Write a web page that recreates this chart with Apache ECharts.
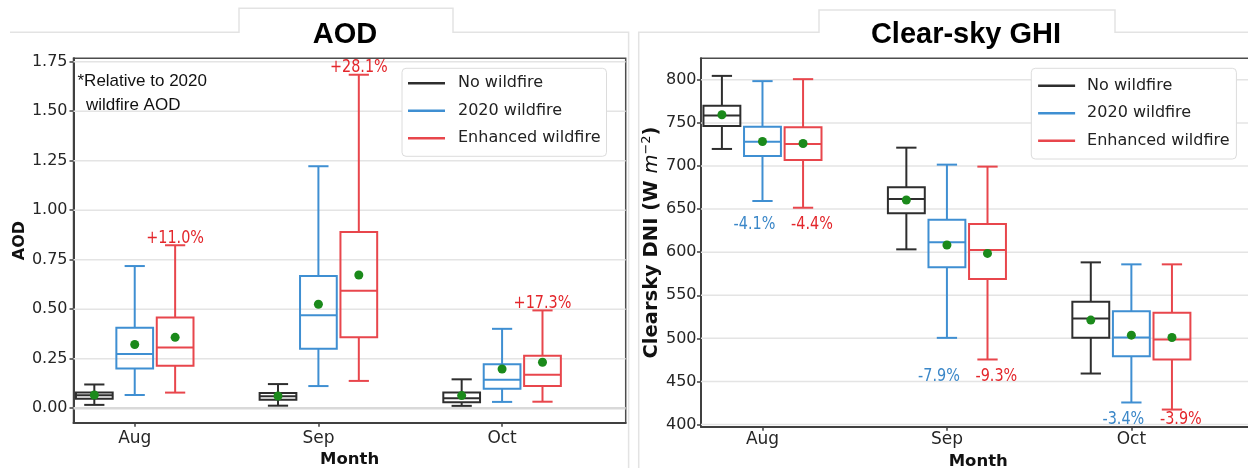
<!DOCTYPE html>
<html>
<head>
<meta charset="utf-8">
<script src="https://cdn.jsdelivr.net/npm/echarts@6/dist/echarts.min.js"></script>
<style>
  html, body { margin: 0; padding: 0; background: #ffffff; }
  #chart { width: 1248px; height: 468px; }
</style>
</head>
<body>
<div id="chart"></div>
<script>
// ---------------- data ----------------
const months = ['Aug', 'Sep', 'Oct'];
const scenarios = ['No wildfire', '2020 wildfire', 'Enhanced wildfire'];

// AOD per month: [min, Q1, median, Q3, max]
const aodNoWildfire = [[0.017, 0.048, 0.065, 0.080, 0.120], [0.013, 0.043, 0.060, 0.077, 0.122], [0.012, 0.030, 0.050, 0.079, 0.146]];
const aodNoWildfireMean = [0.067, 0.062, 0.064];
const aod2020 = [[0.067, 0.201, 0.274, 0.406, 0.718], [0.112, 0.300, 0.470, 0.668, 1.222], [0.032, 0.099, 0.144, 0.222, 0.401]];
const aod2020Mean = [0.322, 0.525, 0.198];
const aodEnhanced = [[0.079, 0.215, 0.307, 0.458, 0.823], [0.138, 0.359, 0.593, 0.890, 1.684], [0.033, 0.112, 0.169, 0.265, 0.494]];
const aodEnhancedMean = [0.358, 0.673, 0.232];
const aodChangeLabels = ['+11.0%', '+28.1%', '+17.3%'];
const aodTicks = [0, 0.25, 0.5, 0.75, 1.0, 1.25, 1.5, 1.75];

// Clear-sky irradiance per month (W m-2): [min, Q1, median, Q3, max]
const ghiNoWildfire = [[719.8, 746.5, 758.5, 769.8, 804.6], [603.3, 645.1, 661.7, 675.3, 721.3], [459.2, 500.6, 523.1, 542.4, 588.2]];
const ghiNoWildfireMean = [759.5, 660.6, 521.2];
const ghi2020 = [[659.4, 711.7, 728.3, 745.7, 798.5], [500.6, 582.4, 611.4, 637.7, 701.6], [425.6, 479.3, 501.0, 531.6, 585.9]];
const ghi2020Mean = [728.4, 608.3, 503.7];
const ghiEnhanced = [[651.6, 707.0, 725.6, 745.0, 800.8], [475.5, 568.8, 602.5, 632.7, 699.3], [417.4, 475.5, 498.7, 529.6, 585.9]];
const ghiEnhancedMean = [726.1, 598.6, 501.0];
const ghiChange2020 = ['-4.1%', '-7.9%', '-3.4%'];
const ghiChangeEnhanced = ['-4.4%', '-9.3%', '-3.9%'];
const ghiTicks = [400, 450, 500, 550, 600, 650, 700, 750, 800];

// ---------------- styling ----------------
const COLORS = ['#2e2e2e', '#3f8fd2', '#e8464c'];
const TEXT_RED = '#e3262b';
const TEXT_BLUE = '#3b87c8';
const MEAN_COLOR = '#1b8a1b';
const FONT = 'DejaVu Sans';
const BOX_W = 0.2;      // box width in month units
const CAP_W = 0.11;     // whisker cap width in month units
const OFFSETS = [-0.22, 0, 0.22];

function rows(stats, means) {
  return stats.map((s, i) => [i, s[0], s[1], s[2], s[3], s[4], means[i]]);
}

// Percent-change annotation, set in a narrowed face
function pctText(x, y, text, color, align) {
  return {
    type: 'text', x: x, y: y, scaleX: 0.8, z2: 20,
    style: {
      text: text, fill: color, fontSize: 18, fontFamily: FONT,
      align: align, verticalAlign: 'middle',
      textAlign: align, textVerticalAlign: 'middle'
    }
  };
}

// Draws one box-and-whisker glyph with its mean marker
function boxRenderer(k, extra) {
  const color = COLORS[k];
  return function (params, api) {
    const m = api.value(0);
    const x = m + OFFSETS[k];
    const w = api.size([BOX_W, 0])[0];
    const cw = api.size([CAP_W, 0])[0];
    const pMin = api.coord([x, api.value(1)]);
    const cx = pMin[0];
    const yMin = pMin[1];
    const yQ1 = api.coord([x, api.value(2)])[1];
    const yMed = api.coord([x, api.value(3)])[1];
    const yQ3 = api.coord([x, api.value(4)])[1];
    const yMax = api.coord([x, api.value(5)])[1];
    const yMean = api.coord([x, api.value(6)])[1];
    const line = { stroke: color, lineWidth: 2, fill: null };
    const children = [
      { type: 'line', shape: { x1: cx, y1: yQ1, x2: cx, y2: yMin }, style: line },
      { type: 'line', shape: { x1: cx, y1: yQ3, x2: cx, y2: yMax }, style: line },
      { type: 'line', shape: { x1: cx - cw / 2, y1: yMin, x2: cx + cw / 2, y2: yMin }, style: line },
      { type: 'line', shape: { x1: cx - cw / 2, y1: yMax, x2: cx + cw / 2, y2: yMax }, style: line },
      { type: 'rect', shape: { x: cx - w / 2, y: yQ3, width: w, height: yQ1 - yQ3 }, style: { stroke: color, lineWidth: 2, fill: 'none' } },
      { type: 'line', shape: { x1: cx - w / 2, y1: yMed, x2: cx + w / 2, y2: yMed }, style: line },
      { type: 'circle', shape: { cx: cx, cy: yMean, r: 4.5 }, style: { fill: MEAN_COLOR }, z2: 10 }
    ];
    if (extra) {
      children.push.apply(children, extra(params, api, m, cx, yMin, yMax));
    }
    return { type: 'group', children: children };
  };
}

// AOD change labels sit just above the enhanced-wildfire whisker
function aodLabel(params, api, m, cx, yMin, yMax) {
  return [pctText(cx, yMax - 7, aodChangeLabels[m], TEXT_RED, 'center')];
}

// Irradiance change labels sit below the lowest whisker of each month
function ghiLabelY(params, api, m) {
  const cs = params.coordSys;
  const y = api.coord([m, ghiEnhanced[m][0]])[1] + 16.5;
  return Math.min(y, cs.y + cs.height - 7.5);
}
function ghiLabel2020(params, api, m) {
  const x = api.coord([m + 0.07, ghiTicks[0]])[0];
  return [pctText(x, ghiLabelY(params, api, m), ghiChange2020[m], TEXT_BLUE, 'right')];
}
function ghiLabelEnhanced(params, api, m) {
  const x = api.coord([m + 0.155, ghiTicks[0]])[0];
  return [pctText(x, ghiLabelY(params, api, m), ghiChangeEnhanced[m], TEXT_RED, 'left')];
}

// Horizontal reference lines at each y tick
function gridLineRenderer(params, api) {
  const cs = params.coordSys;
  const v = api.value(1);
  const y = api.coord([0, v])[1];
  const isZero = v === 0;
  return {
    type: 'line',
    shape: { x1: cs.x, y1: y, x2: cs.x + cs.width, y2: y },
    style: { stroke: isZero ? '#d9d9d9' : '#e4e4e4', lineWidth: isZero ? 2.5 : 1.5 },
    silent: true
  };
}

function boxSeries(name, k, stats, means, axisIdx, extra) {
  return {
    type: 'custom', name: name, xAxisIndex: axisIdx, yAxisIndex: axisIdx,
    itemStyle: { color: COLORS[k] },
    renderItem: boxRenderer(k, extra),
    encode: { x: 0, y: [1, 2, 3, 4, 5, 6] },
    data: rows(stats, means),
    z: 3
  };
}

function gridSeries(ticks, axisIdx) {
  return {
    type: 'custom', name: 'reference lines', xAxisIndex: axisIdx, yAxisIndex: axisIdx,
    silent: true, z: 1,
    renderItem: gridLineRenderer,
    encode: { x: 0, y: 1 },
    data: ticks.map(v => [0, v])
  };
}

const monthIdx = months.map((_, i) => i);
const tickLabelStyle = { fontFamily: FONT, color: '#262626' };

function xAxisFor(gridIndex, labelMargin, nameGap) {
  return {
    gridIndex: gridIndex, type: 'value', min: -1 / 3, max: 2.673,
    axisLine: { onZero: false, lineStyle: { color: '#404040', width: 2 } },
    axisTick: { customValues: monthIdx, length: 4, lineStyle: { color: '#404040', width: 1.5 } },
    axisLabel: Object.assign({ customValues: monthIdx, formatter: v => months[Math.round(v)], fontSize: 17, margin: labelMargin }, tickLabelStyle),
    splitLine: { show: false },
    name: 'Month', nameLocation: 'middle', nameGap: nameGap,
    nameTextStyle: { fontFamily: FONT, fontWeight: 'bold', fontSize: 16.5, color: '#111' }
  };
}

function legendFor(left, padding, textGap) {
  return {
    orient: 'vertical', left: left, top: 68.3,
    padding: padding, itemWidth: 37, itemHeight: 2.5, itemGap: 11.5,
    backgroundColor: '#ffffff', borderColor: '#dcdcdc', borderWidth: 1, borderRadius: 4,
    textStyle: { fontFamily: FONT, fontSize: 16, color: '#222', padding: [0, 0, 0, textGap] },
    data: scenarios.map((n, k) => ({ name: n, icon: 'rect', itemStyle: { color: COLORS[k] } })),
    selectedMode: false
  };
}

const titleStyle = { fontFamily: 'Liberation Sans', fontWeight: 'bold', fontSize: 29, color: '#000' };
const panelLine = { stroke: '#e3e3e3', lineWidth: 1.5, fill: null };
const noteStyle = { fontFamily: 'Liberation Sans', fontSize: 17, fill: '#111', textVerticalAlign: 'middle', verticalAlign: 'middle' };
const gridFrame = { show: true, borderColor: '#4d4d4d', borderWidth: 1.5, containLabel: false, outerBoundsMode: 'none' };

const option = {
  animation: false,
  backgroundColor: '#ffffff',
  title: [
    { text: 'AOD', left: 345, top: 20.5, textAlign: 'center', padding: 0, textStyle: titleStyle },
    { text: 'Clear-sky GHI', left: 966, top: 20.5, textAlign: 'center', padding: 0, textStyle: titleStyle }
  ],
  graphic: [
    { type: 'polyline', silent: true, z: -1,
      shape: { points: [[10, 32.3], [239, 32.3], [239, 8.3], [453, 8.3], [453, 32.3], [628.6, 32.3], [628.6, 470]] },
      style: panelLine },
    { type: 'polyline', silent: true, z: -1,
      shape: { points: [[638.7, 470], [638.7, 32.3], [819, 32.3], [819, 10], [1115, 10], [1115, 32.3], [1250, 32.3]] },
      style: panelLine },
    { type: 'text', x: 77.5, y: 81.7, silent: true, style: Object.assign({ text: '*Relative to 2020' }, noteStyle) },
    { type: 'text', x: 86, y: 105, silent: true, style: Object.assign({ text: 'wildfire AOD' }, noteStyle) }
  ],
  legend: [
    legendFor(402, [7, 6, 10, 6], 8),
    legendFor(1031.3, [9.4, 6.8, 10.3, 6.8], 7)
  ],
  grid: [
    Object.assign({ left: 73.5, right: 622.3, top: 58.3, bottom: 45.3 }, gridFrame),
    Object.assign({ left: 701, right: -7.5, top: 58.3, bottom: 41.3 }, gridFrame)
  ],
  xAxis: [xAxisFor(0, 7, 23), xAxisFor(1, 4.5, 24)],
  yAxis: [
    {
      gridIndex: 0, type: 'value', min: -0.073, max: 1.767,
      axisLine: { show: true, onZero: false, lineStyle: { color: '#404040', width: 2 } },
      axisTick: { show: true, customValues: aodTicks, length: 4, lineStyle: { color: '#404040', width: 1.5 } },
      axisLabel: Object.assign({ customValues: aodTicks, formatter: v => v.toFixed(2), fontSize: 16, margin: 6 }, tickLabelStyle),
      splitLine: { show: false },
      name: 'AOD', nameLocation: 'middle', nameRotate: 90, nameGap: 45.5,
      nameTextStyle: { fontFamily: FONT, fontWeight: 'bold', fontSize: 16, color: '#111' }
    },
    {
      gridIndex: 1, type: 'value', min: 397.5, max: 825,
      axisLine: { show: true, onZero: false, lineStyle: { color: '#404040', width: 2 } },
      axisTick: { show: true, customValues: ghiTicks, length: 4, lineStyle: { color: '#404040', width: 1.5 } },
      axisLabel: Object.assign({ customValues: ghiTicks, formatter: v => String(v), fontSize: 16, margin: 4.5 }, tickLabelStyle),
      splitLine: { show: false },
      name: '{b|Clearsky DNI (W }{i|m}{s|\u22122}{b|)}',
      nameLocation: 'middle', nameRotate: 90, nameGap: 37,
      nameTextStyle: {
        color: '#111',
        rich: {
          b: { fontFamily: FONT, fontWeight: 'bold', fontSize: 19.5, color: '#111' },
          i: { fontFamily: FONT, fontStyle: 'italic', fontSize: 19.5, color: '#111' },
          s: { fontFamily: FONT, fontSize: 13, color: '#111', padding: [0, 0, 11, 0] }
        }
      }
    }
  ],
  series: [
    gridSeries(aodTicks, 0),
    boxSeries(scenarios[0], 0, aodNoWildfire, aodNoWildfireMean, 0),
    boxSeries(scenarios[1], 1, aod2020, aod2020Mean, 0),
    boxSeries(scenarios[2], 2, aodEnhanced, aodEnhancedMean, 0, aodLabel),
    gridSeries(ghiTicks, 1),
    boxSeries(scenarios[0], 0, ghiNoWildfire, ghiNoWildfireMean, 1),
    boxSeries(scenarios[1], 1, ghi2020, ghi2020Mean, 1, ghiLabel2020),
    boxSeries(scenarios[2], 2, ghiEnhanced, ghiEnhancedMean, 1, ghiLabelEnhanced)
  ]
};

const chart = echarts.init(document.getElementById('chart'), null, { renderer: 'canvas' });
chart.setOption(option);
</script>
</body>
</html>
